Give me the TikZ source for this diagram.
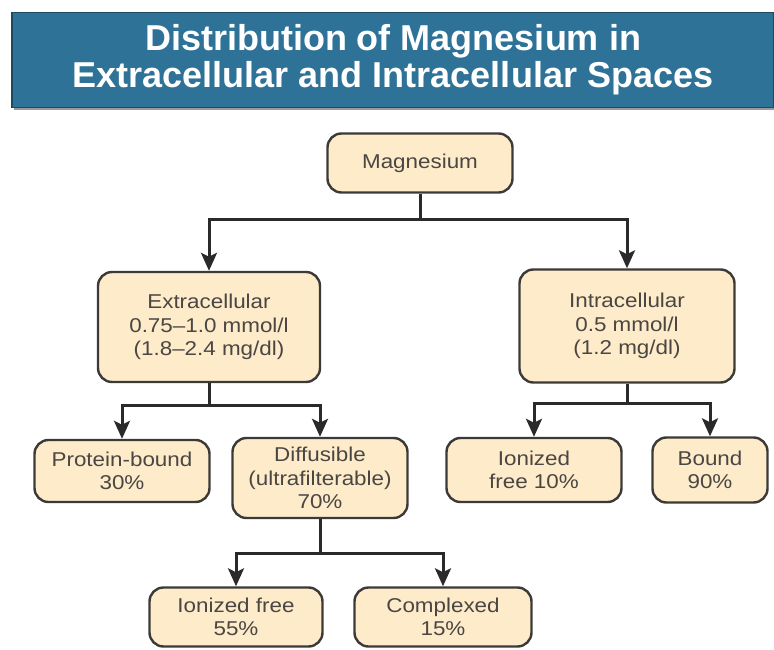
\documentclass[tikz,border=0pt]{standalone}
\usepackage{fontspec}
\setmainfont{Liberation Sans}[FakeStretch=1.12]
\newfontfamily\titlefont{Liberation Sans}
\usetikzlibrary{arrows.meta}
\definecolor{boxfill}{HTML}{FDEBC9}
\definecolor{boxline}{HTML}{3C3A38}
\definecolor{boxtext}{HTML}{4A4644}
\definecolor{banner}{HTML}{2E7298}
\definecolor{bannerline}{HTML}{1E4A63}
\definecolor{linkcol}{HTML}{2A2A2A}

\begin{document}
\begin{tikzpicture}[x=1pt,y=-1pt,>={Stealth[length=18pt,width=16pt,inset=4pt]},
  box node/.style={draw=boxline,fill=boxfill,rounded corners=14pt,align=center,text=boxtext,
    font=\fontsize{20}{23.5}\selectfont,line width=2.4pt,inner sep=0pt},
  banner node/.style={draw=bannerline,fill=banner,line width=1.5pt,align=center,text=white,
    font=\titlefont\bfseries\fontsize{36}{37}\selectfont,inner sep=0pt},
  link/.style={draw=linkcol,line width=3pt}]

  \useasboundingbox (0,0) rectangle (774,650);

  % title banner
  \fill[black!40] (14,14) rectangle (774,110);
  \node[banner node,minimum width=762pt,minimum height=95pt] (title) at (393,60)
    {Distribution of Magnesium in\\Extracellular and Intracellular Spaces};

  % boxes
  \node[box node,minimum width=185pt,minimum height=59pt] (mg) at (420,163) {Magnesium};
  \node[box node,minimum width=222pt,minimum height=110pt] (extra) at (209,327)
    {Extracellular\\0.75--1.0 mmol/l\\(1.8--2.4 mg/dl)};
  \node[box node,minimum width=215pt,minimum height=113pt] (intra) at (627,326)
    {Intracellular\\0.5 mmol/l\\(1.2 mg/dl)};
  \node[box node,minimum width=175pt,minimum height=62pt] (prot) at (122,471)
    {Protein-bound\\30\%};
  \node[box node,minimum width=175pt,minimum height=80pt] (diff) at (320,478)
    {Diffusible\\(ultrafilterable)\\70\%};
  \node[box node,minimum width=175pt,minimum height=64pt] (ion10) at (534,470)
    {Ionized\\free 10\%};
  \node[box node,minimum width=115pt,minimum height=65pt] (bound) at (710,470)
    {Bound\\90\%};
  \node[box node,minimum width=173pt,minimum height=59pt] (ion55) at (236,617)
    {Ionized free\\55\%};
  \node[box node,minimum width=177pt,minimum height=59pt] (cplx) at (443,617)
    {Complexed\\15\%};

  % branch points
  \coordinate (mgj) at (420,219);
  \coordinate (extraj) at (209,405);
  \coordinate (intraj) at (627,403);
  \coordinate (diffj) at (320,553);

  \draw[link] (mg.south) -- (mgj);
  \draw[link,->] (mgj) -| (extra.north);
  \draw[link,->] (mgj) -| (intra.north);

  \draw[link] (extra.south) -- (extraj);
  \draw[link,->] (extraj) -| (prot.north);
  \draw[link,->] (extraj) -| (diff.north);

  \draw[link] (intra.south) -- (intraj);
  \draw[link,->] (intraj) -| (ion10.north);
  \draw[link,->] (intraj) -| (bound.north);

  \draw[link] (diff.south) -- (diffj);
  \draw[link,->] (diffj) -| (ion55.north);
  \draw[link,->] (diffj) -| (cplx.north);

\end{tikzpicture}
\end{document}
